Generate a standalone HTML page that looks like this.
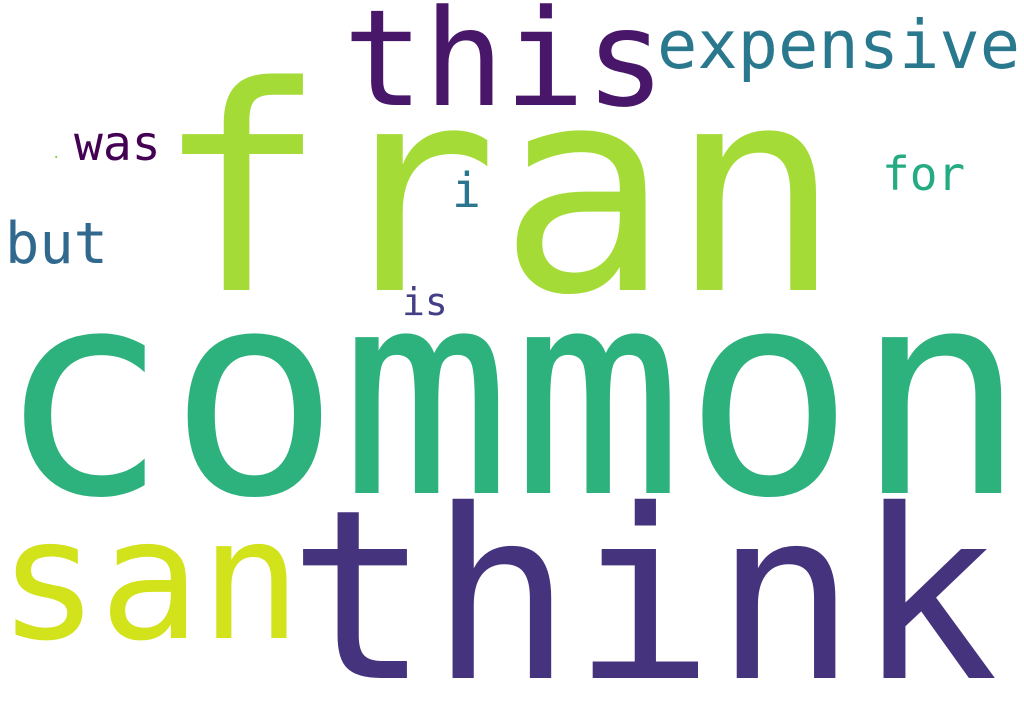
<!DOCTYPE html>
<html><head><meta charset="utf-8"><style>
html,body{margin:0;padding:0;background:#fff;}
svg{display:block;}
text{font-family:"DejaVu Sans Mono","Liberation Mono",monospace;}
</style></head><body>
<svg id="cloud" width="1024" height="720" viewBox="0 0 1024 720">
<rect width="1024" height="720" fill="#ffffff"/>
</svg>
<script>
const words = ["fran","common","think","this","expensive","san","but","was","for","i","is","."];
const sizes = [285,285,236,134,67,168,57,48,46,48,38,14];
const colors = ["#a5db36","#2db27d","#46337e","#481769","#2a788e","#d2e21b","#31688e","#440154","#25ab82","#2a768e","#433e85","#7ad151"];
const xs = [155,-3,288,343,657,-2,5,74,882,452,402,52];
const ys = [290,493,678,105,68,638,263,160,190,207,315,158];
const svg = document.getElementById('cloud');
const NS = 'http://www.w3.org/2000/svg';
for (let i = 0; i < words.length; i++) {
  const t = document.createElementNS(NS, 'text');
  t.setAttribute('x', xs[i]);
  t.setAttribute('y', ys[i]);
  t.setAttribute('font-size', sizes[i]);
  t.setAttribute('fill', colors[i]);
  t.textContent = words[i];
  
  
  svg.appendChild(t);
}
</script>
</body></html>
